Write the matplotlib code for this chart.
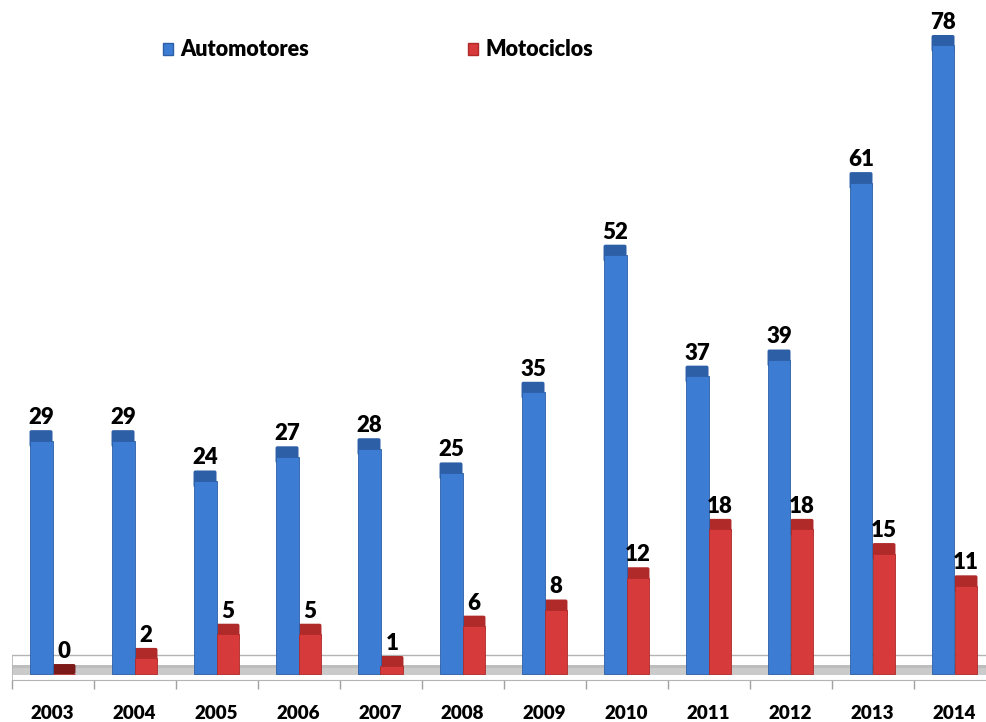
import numpy as np
import matplotlib.pyplot as plt
from matplotlib.patches import Patch, FancyBboxPatch

years = ["2003", "2004", "2005", "2006", "2007", "2008",
         "2009", "2010", "2011", "2012", "2013", "2014"]
automotores = [29, 29, 24, 27, 28, 25, 35, 52, 37, 39, 61, 78]
motociclos = [0, 2, 5, 5, 1, 6, 8, 12, 18, 18, 15, 11]

plt.rcParams["font.family"] = ["Lato", "DejaVu Sans"]
wt = "heavy"

fig = plt.figure(figsize=(9.86, 7.22), dpi=100)
# axes box in pixels: left 11.5, width 984 (runs a bit past the right edge), bottom spine at y=680
ax = fig.add_axes([11.5 / 986, 42 / 722, 984 / 986, 680 / 722])
ax.set_xlim(-0.5, 11.5)
ax.set_ylim(-1.98, 82.34)

x = np.arange(len(years))
w = 0.28
base = -1.24   # front edge of the floor
cap = 1.3      # darker top face of each bar

line_c = "#b4b4b4"
# floor: back line, grey band, side edge
ax.axhline(1.18, color=line_c, lw=1.0, zorder=1)
ax.axhspan(-1.36, -0.12, color="#cacaca", lw=0, zorder=1)
ax.axhspan(-0.45, -0.12, color="#bdbdbd", lw=0, zorder=1)
ax.vlines(-0.5, -1.98, 1.18, color=line_c, lw=1.2, zorder=1)

# data units per pixel, used to keep cap corners round
asp = (82.34 + 1.98) / 680 / (12 / 984)


def draw_series(offset, vals, body_c, cap_c, zero_c):
    vals = np.array(vals, dtype=float)
    body_h = np.clip(vals - cap - base, 0, None)
    ax.bar(x + offset, body_h, w, bottom=base, color=body_c,
           edgecolor=cap_c, linewidth=0.6, zorder=3)
    cap_bottom = np.maximum(vals - cap - 0.8, base)
    caps = ax.bar(x + offset, vals - cap_bottom, w, bottom=cap_bottom,
                  color="none", linewidth=0, zorder=2)
    for r, v in zip(caps.patches, vals):
        ax.add_patch(FancyBboxPatch((r.get_x(), r.get_y()), r.get_width(), r.get_height(),
                                    boxstyle="round,pad=0,rounding_size=0.022",
                                    mutation_aspect=asp, lw=0, zorder=2,
                                    facecolor=zero_c if v == 0 else cap_c))
    ax.bar_label(caps, labels=[f"{v:g}" for v in vals], padding=1.5,
                 fontsize=16, fontweight=wt, color="black", zorder=4)


draw_series(-w / 2, automotores, "#3c7dd3", "#2d5fa6", "#1f3f70")
draw_series(w / 2, motociclos, "#d63a3a", "#b02a2a", "#7c1a1a")

# ticks: year labels at centres, small marks at boundaries
ax.set_xticks(x)
ax.set_xticklabels(years, fontsize=13.5, fontweight=wt)
ax.tick_params(axis="x", which="major", length=0, pad=18)
ax.set_xticks(np.arange(-0.5, 12, 1), minor=True)
ax.tick_params(axis="x", which="minor", length=6.5, color="#a0a0a0", width=1)
ax.set_yticks([])
for s in ["top", "right", "left"]:
    ax.spines[s].set_visible(False)
ax.spines["bottom"].set_color(line_c)

handles = [Patch(facecolor="#3c7dd3", edgecolor="#2d5fa6", label="Automotores"),
           Patch(facecolor="#d63a3a", edgecolor="#b02a2a", label="Motociclos")]
fig.legend(handles=handles, loc="center left", bbox_to_anchor=(163 / 986, 1 - 50 / 722),
           ncol=2, frameon=False, prop={"size": 15.5, "weight": wt},
           handlelength=0.45, handleheight=0.45, handletextpad=0.35,
           columnspacing=7.4, borderpad=0, borderaxespad=0)

fig.savefig("out.png", dpi=100)
